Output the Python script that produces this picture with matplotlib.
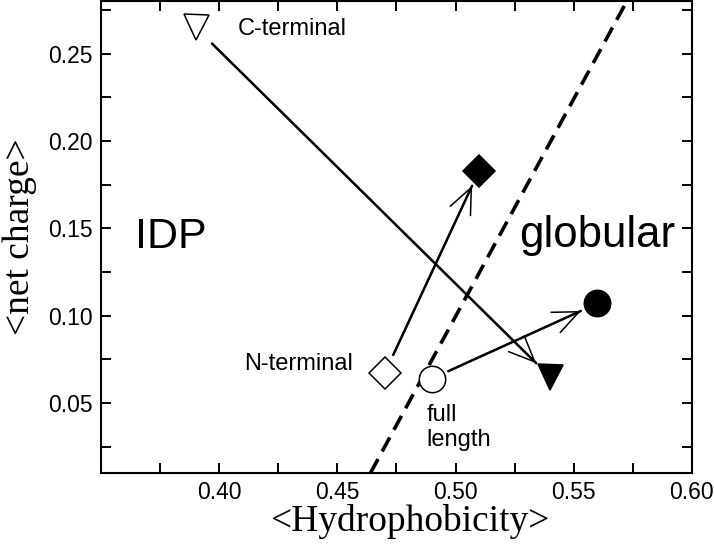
import matplotlib
matplotlib.use("Agg")
import matplotlib.pyplot as plt
from matplotlib.ticker import MultipleLocator

# open symbols: isolated fragments / full length; filled symbols: after the shift
labels = ["C-terminal", "N-terminal", "full length"]
hydro_open = [0.390, 0.470, 0.490]
charge_open = [0.265, 0.067, 0.064]
hydro_filled = [0.540, 0.510, 0.560]
charge_filled = [0.065, 0.183, 0.107]
markers = ["v", "D", "o"]
marker_sizes = [18, 16, 19]

# IDP / globular boundary (dashed)
boundary_x = [0.464, 0.5725]
boundary_y = [0.010, 0.280]

sans = ["Liberation Sans", "DejaVu Sans"]
serif = ["Liberation Serif", "DejaVu Serif"]

fig = plt.figure(figsize=(7.14, 5.52), dpi=100)
ax = fig.add_axes([0.1415, 0.1431, 0.969 - 0.1415, 0.998 - 0.1431])

ax.plot(boundary_x, boundary_y, color="black", lw=2.6, dashes=(4.4, 2.4),
        solid_capstyle="butt", dash_capstyle="butt")

# gaps (points) between the markers and the arrow ends
gap_start = [16.6, 14.7, 13.0]
gap_end = [14.0, 12.0, 13.0]
for i in range(len(labels)):
    p0 = (hydro_open[i], charge_open[i])
    p1 = (hydro_filled[i], charge_filled[i])
    ax.annotate("", xy=p1, xytext=p0,
                arrowprops=dict(arrowstyle="-", lw=1.8, color="black",
                                shrinkA=gap_start[i], shrinkB=gap_end[i]))
    ax.annotate("", xy=p1, xytext=p0,
                arrowprops=dict(arrowstyle="->,head_length=0.93,head_width=0.4",
                                mutation_scale=20, lw=1.1, color="black",
                                shrinkA=gap_start[i], shrinkB=gap_end[i]))
    ax.plot(hydro_open[i], charge_open[i], marker=markers[i], ms=marker_sizes[i],
            mfc="white", mec="black", mew=1.1, ls="none", zorder=5)
    ax.plot(hydro_filled[i], charge_filled[i], marker=markers[i], ms=marker_sizes[i],
            mfc="black", mec="black", mew=1.1, ls="none", zorder=5)

ax.text(0.408, 0.2605, "C-terminal", fontsize=17, family=sans, ha="left", va="baseline")
ax.text(0.4568, 0.069, "N-terminal", fontsize=17, family=sans, ha="right", va="baseline")
ax.text(0.4877, 0.0395, "full", fontsize=17, family=sans, ha="left", va="baseline")
ax.text(0.4877, 0.0252, "length", fontsize=17, family=sans, ha="left", va="baseline")
ax.text(0.3644, 0.1386, "IDP", fontsize=31, family=sans, ha="left", va="baseline")
ax.text(0.5268, 0.1394, "globular", fontsize=31.5, family=sans, ha="left", va="baseline")

ax.set_xlim(0.35, 0.60)
ax.set_ylim(0.01, 0.28)
ax.xaxis.set_minor_locator(MultipleLocator(0.025))
ax.yaxis.set_minor_locator(MultipleLocator(0.025))
ax.set_xticks([0.40, 0.45, 0.50, 0.55, 0.60])
ax.set_xticklabels(["0.40", "0.45", "0.50", "0.55", "0.60"])
ax.set_yticks([0.05, 0.10, 0.15, 0.20, 0.25])
ax.set_yticklabels(["0.05", "0.10", "0.15", "0.20", "0.25"])
ax.tick_params(which="both", direction="in", top=True, right=True,
               length=7, width=1.4, pad=6)
ax.tick_params(which="major", labelsize=16.5)
for lab in ax.get_xticklabels() + ax.get_yticklabels():
    lab.set_family(sans)
for sp in ax.spines.values():
    sp.set_linewidth(1.5)

ax.set_xlabel("<Hydrophobicity>", fontsize=27, family=serif)
ax.xaxis.set_label_coords(0.523, -0.066)
ax.set_ylabel("<net charge>", fontsize=27, family=serif, labelpad=8)

fig.savefig("out.png", dpi=100)
